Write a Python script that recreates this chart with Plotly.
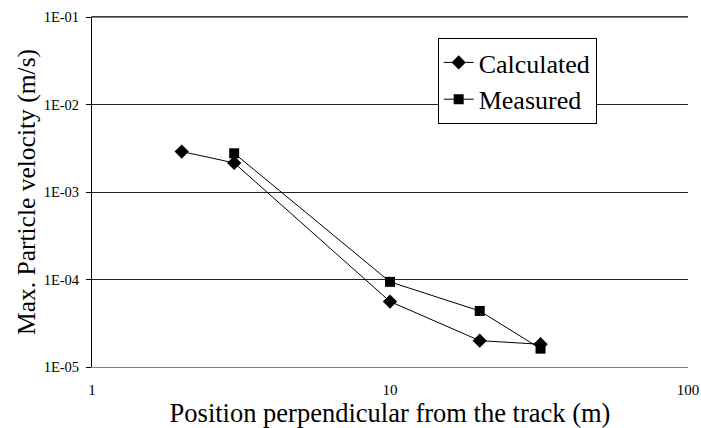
import plotly.graph_objects as go

calc_x = [2, 3, 10, 20, 32]
calc_y = [2.9e-3, 2.15e-3, 5.6e-5, 2.0e-5, 1.82e-5]
meas_x = [3, 10, 20, 32]
meas_y = [2.77e-3, 9.4e-5, 4.37e-5, 1.62e-5]

y_tickvals = [1e-5, 1e-4, 1e-3, 1e-2, 1e-1]
y_ticktext = ["1E-05", "1E-04", "1E-03", "1E-02", "1E-01"]
x_tickvals = [1, 10, 100]
x_ticktext = ["1", "10", "100"]

FONT = "Liberation Serif, DejaVu Serif, serif"

fig = go.Figure()
fig.add_trace(go.Scatter(x=calc_x, y=calc_y, mode="lines+markers", name="Calculated",
                         line=dict(color="black", width=1),
                         marker=dict(symbol="diamond", size=11, color="black")))
fig.add_trace(go.Scatter(x=meas_x, y=meas_y, mode="lines+markers", name="Measured",
                         line=dict(color="black", width=1),
                         marker=dict(symbol="square", size=10, color="black")))

fig.update_layout(
    width=701, height=428,
    margin=dict(l=92, r=13, t=17, b=61),
    paper_bgcolor="white", plot_bgcolor="white",
    font=dict(family=FONT, color="black"),
    legend=dict(x=0.58, y=0.94, xanchor="left", yanchor="top",
                bordercolor="black", borderwidth=1, bgcolor="white",
                font=dict(family=FONT, size=26), tracegroupgap=0,
                itemwidth=30),
    xaxis=dict(type="log", range=[0, 2], tickvals=x_tickvals, ticktext=x_ticktext,
               showgrid=False, showline=True, linecolor="#808080", linewidth=1,
               mirror=True, ticks="", ticklabelstandoff=9, automargin=False,
               tickfont=dict(family=FONT, size=15),
               title=dict(text="Position perpendicular from the track (m)",
                          font=dict(family=FONT, size=26.5), standoff=9)),
    yaxis=dict(type="log", range=[-5, -1], tickvals=y_tickvals, ticktext=y_ticktext,
               showgrid=True, gridcolor="#222222", gridwidth=1, automargin=False,
               showline=True, linecolor="black", linewidth=1,
               ticks="outside", ticklen=5, tickcolor="black", ticklabelstandoff=4,
               tickfont=dict(family=FONT, size=14.5),
               title=dict(text="Max. Particle velocity (m/s)",
                          font=dict(family=FONT, size=25.5), standoff=0)),
    showlegend=True,
)
fig.add_shape(type="line", xref="paper", yref="paper", x0=0, x1=1, y0=1, y1=1,
              line=dict(color="black", width=1))

fig.write_html("out.html", config={"displayModeBar": False},
               post_script="document.body.style.margin='0';document.body.style.overflow='hidden';")
